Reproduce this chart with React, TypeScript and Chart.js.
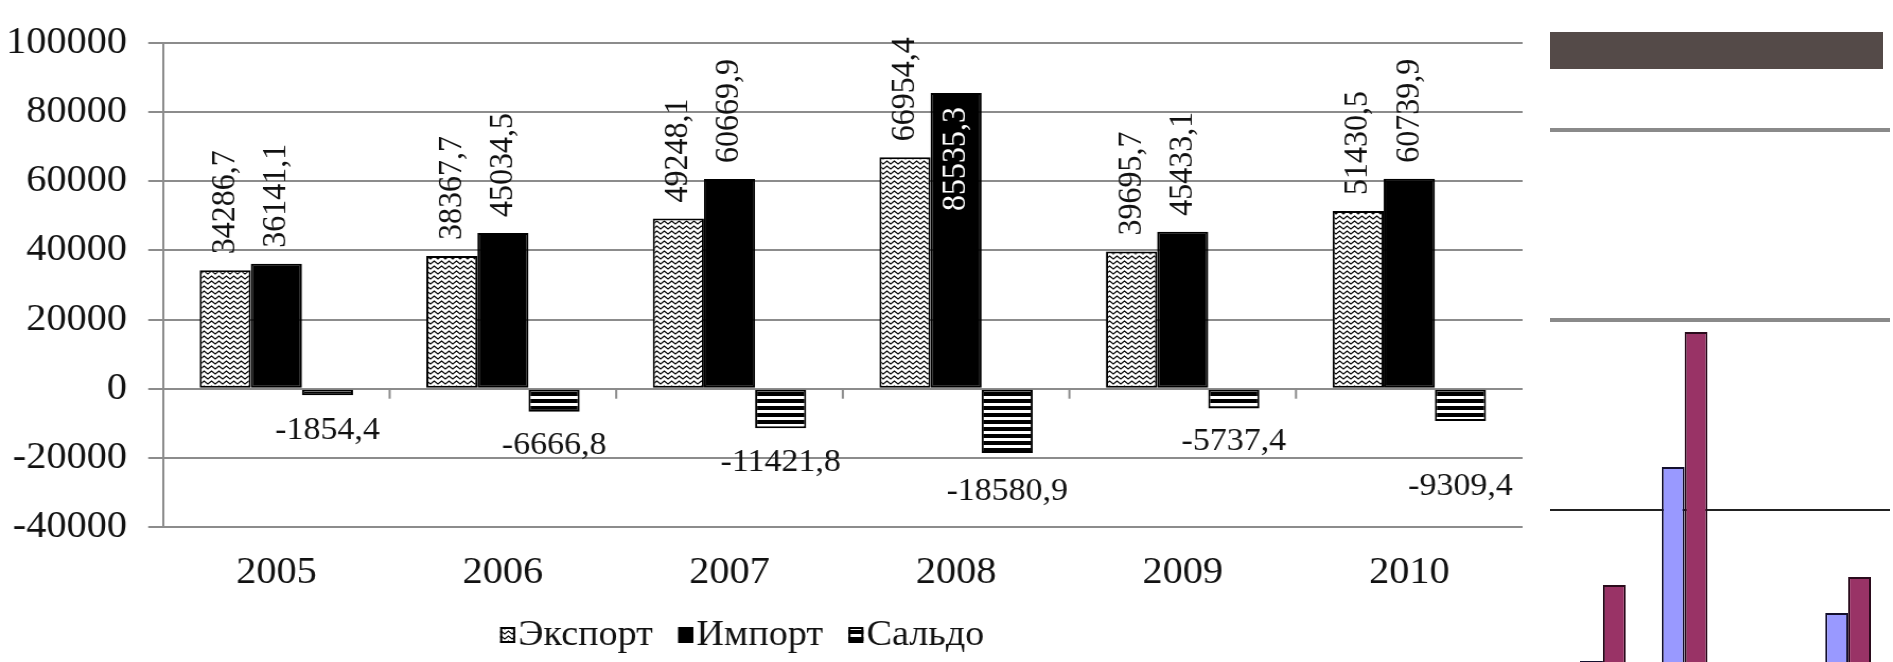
import React, { useEffect, useRef } from "react";
import { Chart, registerables } from "chart.js";

Chart.register(...registerables);

// ---------- data ----------
const years = ["2005", "2006", "2007", "2008", "2009", "2010"];
const exportValues = [34286.7, 38367.7, 49248.1, 66954.4, 39695.7, 51430.5];
const importValues = [36141.1, 45034.5, 60669.9, 85535.3, 45433.1, 60739.9];
const saldoValues = [-1854.4, -6666.8, -11421.8, -18580.9, -5737.4, -9309.4];
const seriesNames = ["Экспорт", "Импорт", "Сальдо"];
const yMin = -40000;
const yMax = 100000;
const yStep = 20000;

// background fragment of another chart (right edge of the picture)
const fragCategories = ["1", "2", "3", "4"];
const fragSeriesA = [205, 1226, 150, 458];
const fragSeriesB = [605, 1937, 180, 647];
const fragTicks = [1000, 2000, 3000];

// ---------- styling ----------
const SX = 1.06; // horizontal stretch of the reference picture
const MAIN_W = 1530;
const H = 662;
const CANVAS_W = Math.round(MAIN_W / SX);
const FONT = '"Liberation Serif", "Times New Roman", serif';
const TEXT = "#111";
const GRID = "#8c8c8c";
const saldoLabelDrop = [35, 34, 34, 39, 33, 66];

const fmt = (v: number) => v.toFixed(1).replace(".", ",");

function makeZigzag(): CanvasPattern | string {
  const c = document.createElement("canvas");
  c.width = 7;
  c.height = 5;
  const g = c.getContext("2d");
  if (!g) return "#fff";
  g.fillStyle = "#fff";
  g.fillRect(0, 0, 7, 5);
  g.strokeStyle = "#000";
  g.lineWidth = 1.1;
  g.beginPath();
  g.moveTo(-3.5, 1);
  g.lineTo(0, 4);
  g.lineTo(3.5, 1);
  g.lineTo(7, 4);
  g.lineTo(10.5, 1);
  g.stroke();
  return g.createPattern(c, "repeat") || "#fff";
}

function makeStripes(): CanvasPattern | string {
  const c = document.createElement("canvas");
  c.width = 4;
  c.height = 7;
  const g = c.getContext("2d");
  if (!g) return "#000";
  g.fillStyle = "#fff";
  g.fillRect(0, 0, 4, 7);
  g.fillStyle = "#000";
  g.fillRect(0, 0, 4, 4);
  return g.createPattern(c, "repeat") || "#000";
}

export default function App() {
  const mainRef = useRef<HTMLCanvasElement>(null);
  const fragRef = useRef<HTMLCanvasElement>(null);

  useEffect(() => {
    if (!mainRef.current || !fragRef.current) return;
    const zig = makeZigzag();
    const stripes = makeStripes();
    const fills = [zig, "#000", stripes];

    const extras = {
      id: "extras",
      afterDatasetsDraw(chart: any) {
        const ctx: CanvasRenderingContext2D = chart.ctx;
        const xs = chart.scales.x;
        const ys = chart.scales.y;
        const zeroY = ys.getPixelForValue(0);
        ctx.save();
        // category boundary tick marks on the zero line
        ctx.strokeStyle = GRID;
        ctx.lineWidth = 2;
        for (let i = 0; i < years.length - 1; i++) {
          const bx = (xs.getPixelForValue(i) + xs.getPixelForValue(i + 1)) / 2;
          ctx.beginPath();
          ctx.moveTo(bx, zeroY);
          ctx.lineTo(bx, zeroY + 10);
          ctx.stroke();
        }
        // rotated labels for export / import
        ctx.font = `32px ${FONT}`;
        [0, 1].forEach((di) => {
          const meta = chart.getDatasetMeta(di);
          meta.data.forEach((bar: any, i: number) => {
            const txt = fmt(chart.data.datasets[di].data[i]);
            const w = ctx.measureText(txt).width;
            let start = bar.y - 16;
            let color = TEXT;
            if (start - w < 22) {
              start = bar.y + 14 + w;
              color = "#fff";
            }
            ctx.save();
            ctx.translate(bar.x, start);
            ctx.rotate(-Math.PI / 2);
            ctx.fillStyle = color;
            ctx.textAlign = "left";
            ctx.textBaseline = "middle";
            ctx.fillText(txt, 0, 0);
            ctx.restore();
          });
        });
        // saldo labels below bars
        const m2 = chart.getDatasetMeta(2);
        ctx.fillStyle = TEXT;
        ctx.textAlign = "center";
        ctx.textBaseline = "middle";
        m2.data.forEach((bar: any, i: number) => {
          const txt = fmt(chart.data.datasets[2].data[i]);
          ctx.fillText(txt, bar.x, bar.y + saldoLabelDrop[i]);
        });
        ctx.restore();
      },
      afterDraw(chart: any) {
        const ctx: CanvasRenderingContext2D = chart.ctx;
        ctx.save();
        ctx.font = `36px ${FONT}`;
        ctx.textBaseline = "middle";
        ctx.textAlign = "left";
        let x = 500 / SX;
        const boxW = 15 / SX;
        const boxH = 16;
        const boxTop = 627;
        const cy = 636;
        seriesNames.forEach((name, i) => {
          ctx.fillStyle = fills[i] as any;
          ctx.fillRect(x, boxTop, boxW, boxH);
          ctx.strokeStyle = "#000";
          ctx.lineWidth = 2;
          ctx.strokeRect(x + 1, boxTop + 1, boxW - 2, boxH - 2);
          const tx = x + boxW + 3;
          ctx.fillStyle = TEXT;
          ctx.fillText(name, tx, cy);
          x = tx + ctx.measureText(name).width + 24;
        });
        ctx.restore();
      },
    };

    const main = new Chart(mainRef.current, {
      type: "bar",
      data: {
        labels: years,
        datasets: [
          { label: seriesNames[0], data: exportValues, backgroundColor: zig as any, borderColor: "#000", borderWidth: 2, borderSkipped: false },
          { label: seriesNames[1], data: importValues, backgroundColor: "#000", borderColor: "#000", borderWidth: 2, borderSkipped: false },
          { label: seriesNames[2], data: saldoValues, backgroundColor: stripes as any, borderColor: "#000", borderWidth: 2, borderSkipped: false },
        ],
      },
      options: {
        responsive: false,
        animation: false,
        devicePixelRatio: 1,
        layout: { padding: { top: 43, right: CANVAS_W - Math.round(1522 / SX), left: 0, bottom: 0 } },
        datasets: { bar: { categoryPercentage: 0.677, barPercentage: 1 } },
        plugins: { legend: { display: false }, tooltip: { enabled: false }, title: { display: false } },
        scales: {
          x: {
            grid: { display: false, drawTicks: false },
            border: { display: false },
            ticks: { font: { size: 38, family: FONT }, color: TEXT, padding: 23, maxRotation: 0, autoSkip: false },
            afterFit: (s: any) => {
              s.height = H - 527;
            },
          },
          y: {
            min: yMin,
            max: yMax,
            ticks: {
              stepSize: yStep,
              font: { size: 38, family: FONT },
              color: TEXT,
              padding: 20,
              callback: (v: any) => String(v),
            },
            grid: { color: GRID, lineWidth: 2, tickLength: 14, drawTicks: true },
            border: { display: true, color: GRID, width: 2 },
            afterFit: (s: any) => {
              s.width = 163 / SX;
            },
          },
        },
      },
      plugins: [extras],
    } as any);

    const fragGrid = {
      id: "fragGrid",
      beforeDatasetsDraw(chart: any) {
        const ctx: CanvasRenderingContext2D = chart.ctx;
        const ys = chart.scales.y;
        ctx.save();
        fragTicks.forEach((v) => {
          const y = ys.getPixelForValue(v);
          ctx.strokeStyle = v === fragTicks[0] ? "#222" : "#8a8a8a";
          ctx.lineWidth = v === fragTicks[0] ? 2 : 4;
          ctx.beginPath();
          ctx.moveTo(0, y);
          ctx.lineTo(chart.width - 3, y);
          ctx.stroke();
        });
        ctx.restore();
      },
    };

    const frag = new Chart(fragRef.current, {
      type: "bar",
      data: {
        labels: fragCategories,
        datasets: [
          { data: fragSeriesA, backgroundColor: "#9999ff", borderColor: "#14102e", borderWidth: 2, borderSkipped: false },
          { data: fragSeriesB, backgroundColor: "#993366", borderColor: "#2a0b1c", borderWidth: 2, borderSkipped: false },
        ],
      },
      options: {
        responsive: false,
        animation: false,
        devicePixelRatio: 1,
        layout: { padding: { top: 130, left: 12, right: 4, bottom: 0 } },
        datasets: { bar: { categoryPercentage: 0.56, barPercentage: 1 } },
        plugins: { legend: { display: false }, tooltip: { enabled: false } },
        scales: {
          x: { display: false },
          y: {
            min: 200,
            max: 3000,
            ticks: { display: false },
            border: { display: false },
            grid: { display: false, drawTicks: false },
            afterFit: (s: any) => {
              s.width = 0;
            },
          },
        },
      },
      plugins: [fragGrid],
    } as any);

    return () => {
      main.destroy();
      frag.destroy();
    };
  }, []);

  return (
    <div style={{ position: "fixed", left: 0, top: 0, width: 1893, height: H, background: "#fff", overflow: "hidden" }}>
      <canvas
        ref={mainRef}
        width={CANVAS_W}
        height={H}
        style={{ position: "absolute", left: 0, top: 0, width: `${MAIN_W}px`, height: `${H}px` }}
      />
      <div style={{ position: "absolute", left: 1550, top: 32, width: 333, height: 37, background: "#544a48" }} />
      <canvas
        ref={fragRef}
        width={343}
        height={H}
        style={{ position: "absolute", left: 1550, top: 0, width: "343px", height: `${H}px` }}
      />
    </div>
  );
}
